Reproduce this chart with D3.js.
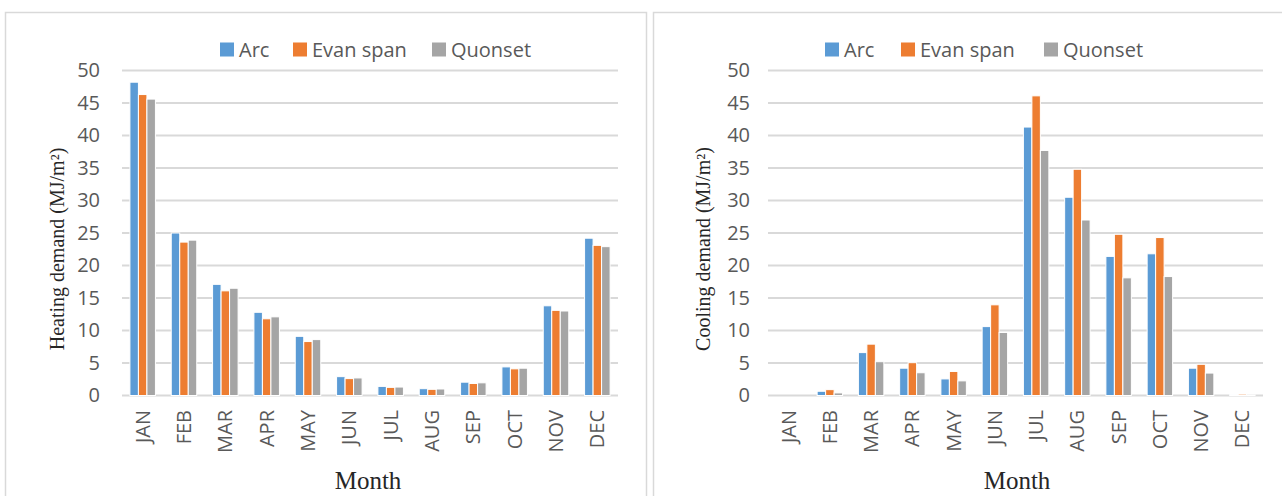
<!DOCTYPE html>
<html>
<head>
<meta charset="utf-8">
<script src="https://cdn.jsdelivr.net/npm/d3@7"></script>
<style>
  body { margin: 0; background: #fff; }
  svg { display: block; }
</style>
</head>
<body>
<div id="chart"></div>
<script>
// month categories and series names
var months = ["JAN", "FEB", "MAR", "APR", "MAY", "JUN", "JUL", "AUG", "SEP", "OCT", "NOV", "DEC"];
var seriesNames = ["Arc", "Evan span", "Quonset"];
var yTicks = [0, 5, 10, 15, 20, 25, 30, 35, 40, 45, 50];

// heating demand (MJ/m2)
var heatArc = [48.2, 25.0, 17.1, 12.8, 9.1, 2.9, 1.4, 1.05, 2.05, 4.4, 13.8, 24.2];
var heatEvan = [46.3, 23.6, 16.1, 11.8, 8.3, 2.6, 1.25, 0.95, 1.85, 4.1, 13.1, 23.1];
var heatQuonset = [45.6, 23.9, 16.5, 12.1, 8.6, 2.7, 1.3, 1.0, 1.95, 4.2, 13.0, 22.9];

// cooling demand (MJ/m2)
var coolArc = [0, 0.65, 6.6, 4.2, 2.55, 10.6, 41.3, 30.5, 21.4, 21.8, 4.2, 0.15];
var coolEvan = [0, 0.9, 7.9, 5.05, 3.7, 13.95, 46.1, 34.8, 24.8, 24.3, 4.8, 0.2];
var coolQuonset = [0, 0.4, 5.2, 3.5, 2.25, 9.7, 37.7, 27.0, 18.1, 18.3, 3.45, 0.1];

var colors = ["#5B9BD5", "#ED7D31", "#A5A5A5"];

var svgWidth = 1282, svgHeight = 496;
var svg = d3.select("#chart").append("svg")
  .attr("width", svgWidth)
  .attr("height", svgHeight);

// draw one Excel-style clustered column panel
function drawPanel(opts) {
  var g = svg.append("g");

  // outer frame
  g.append("rect")
    .attr("x", opts.frame[0] + 0.5)
    .attr("y", 12.5)
    .attr("width", opts.frame[1] - opts.frame[0])
    .attr("height", 520)
    .attr("fill", "none")
    .attr("stroke", "#d9d9d9")
    .attr("stroke-width", 1.5);

  var x0 = d3.scaleBand()
    .domain(months)
    .range([opts.left, opts.right]);

  var x1 = d3.scaleBand()
    .domain(seriesNames)
    .range([0, x0.bandwidth()])
    .paddingOuter(0.93)
    .paddingInner(0);

  var y = d3.scaleLinear()
    .domain([0, 50])
    .range([395.5, 70.5]);

  // gridlines
  g.append("g")
    .selectAll("line")
    .data(yTicks)
    .enter()
    .append("line")
    .attr("x1", opts.left)
    .attr("x2", opts.right)
    .attr("y1", d => y(d))
    .attr("y2", d => y(d))
    .attr("stroke", "#d9d9d9")
    .attr("stroke-width", 2);

  // y tick labels
  var yAxis = d3.axisLeft(y).tickValues(yTicks).tickSize(0).tickPadding(0);
  var yG = g.append("g")
    .attr("transform", `translate(${opts.left - opts.tickGap}, 0)`)
    .call(yAxis);
  yG.select(".domain").remove();
  yG.selectAll("text")
    .attr("fill", "#595959")
    .style("font-family", "'Open Sans', sans-serif")
    .style("font-size", "20px");

  // bars
  var rows = months.map((m, i) => ({
    month: m,
    values: opts.data.map((arr, s) => ({ name: seriesNames[s], value: arr[i], color: colors[s] }))
  }));

  g.append("g")
    .selectAll("g")
    .data(rows)
    .enter()
    .append("g")
    .attr("transform", d => `translate(${x0(d.month)}, 0)`)
    .selectAll("rect")
    .data(d => d.values)
    .enter()
    .append("rect")
    .attr("x", d => x1(d.name))
    .attr("width", x1.bandwidth())
    .attr("y", d => y(d.value))
    .attr("height", d => y(0) - y(d.value))
    .attr("fill", d => d.color)
    .attr("stroke", "#fff")
    .attr("stroke-width", 1);

  // x tick labels, rotated
  var xAxis = d3.axisBottom(x0).tickSize(0).tickPadding(0);
  var xG = g.append("g")
    .attr("transform", "translate(0, 410)")
    .call(xAxis);
  xG.select(".domain").remove();
  xG.selectAll("text")
    .attr("fill", "#595959")
    .attr("text-anchor", "end")
    .attr("dy", "0.35em")
    .attr("transform", "rotate(-90)")
    .attr("x", 0)
    .attr("y", 0)
    .style("font-family", "'Open Sans', sans-serif")
    .style("font-size", "20px");

  // axis titles
  g.append("text")
    .attr("transform", `translate(${opts.titleX}, 249) rotate(-90)`)
    .attr("text-anchor", "middle")
    .attr("dy", "0.35em")
    .attr("fill", "#262626")
    .style("font-family", "'Liberation Serif', 'Times New Roman', serif")
    .style("font-size", "20px")
    .text(opts.yTitle);

  g.append("text")
    .attr("x", opts.monthX)
    .attr("y", 489)
    .attr("text-anchor", "middle")
    .attr("fill", "#262626")
    .style("font-family", "'Liberation Serif', 'Times New Roman', serif")
    .style("font-size", "25px")
    .text("Month");

  // legend
  var legend = g.append("g")
    .attr("transform", `translate(${opts.legendX}, 49.5)`);
  seriesNames.forEach(function(name, i) {
    legend.append("rect")
      .attr("x", opts.legendOffsets[i])
      .attr("y", -7)
      .attr("width", 14)
      .attr("height", 14)
      .attr("fill", colors[i]);
    legend.append("text")
      .attr("x", opts.legendOffsets[i] + 19)
      .attr("y", 0)
      .attr("dy", "0.35em")
      .attr("fill", "#595959")
      .style("font-family", "'Open Sans', sans-serif")
      .style("font-size", "20px")
      .text(name);
  });
}

drawPanel({
  frame: [5, 646],
  left: 122,
  right: 618,
  tickGap: 22,
  titleX: 57,
  monthX: 368,
  yTitle: "Heating demand (MJ/m²)",
  legendX: 220,
  legendOffsets: [0, 73, 212],
  data: [heatArc, heatEvan, heatQuonset]
});

drawPanel({
  frame: [653, 1290],
  left: 768,
  right: 1263,
  tickGap: 18,
  titleX: 703,
  monthX: 1017,
  yTitle: "Cooling demand (MJ/m²)",
  legendX: 825,
  legendOffsets: [0, 76, 219],
  data: [coolArc, coolEvan, coolQuonset]
});
</script>
</body>
</html>
